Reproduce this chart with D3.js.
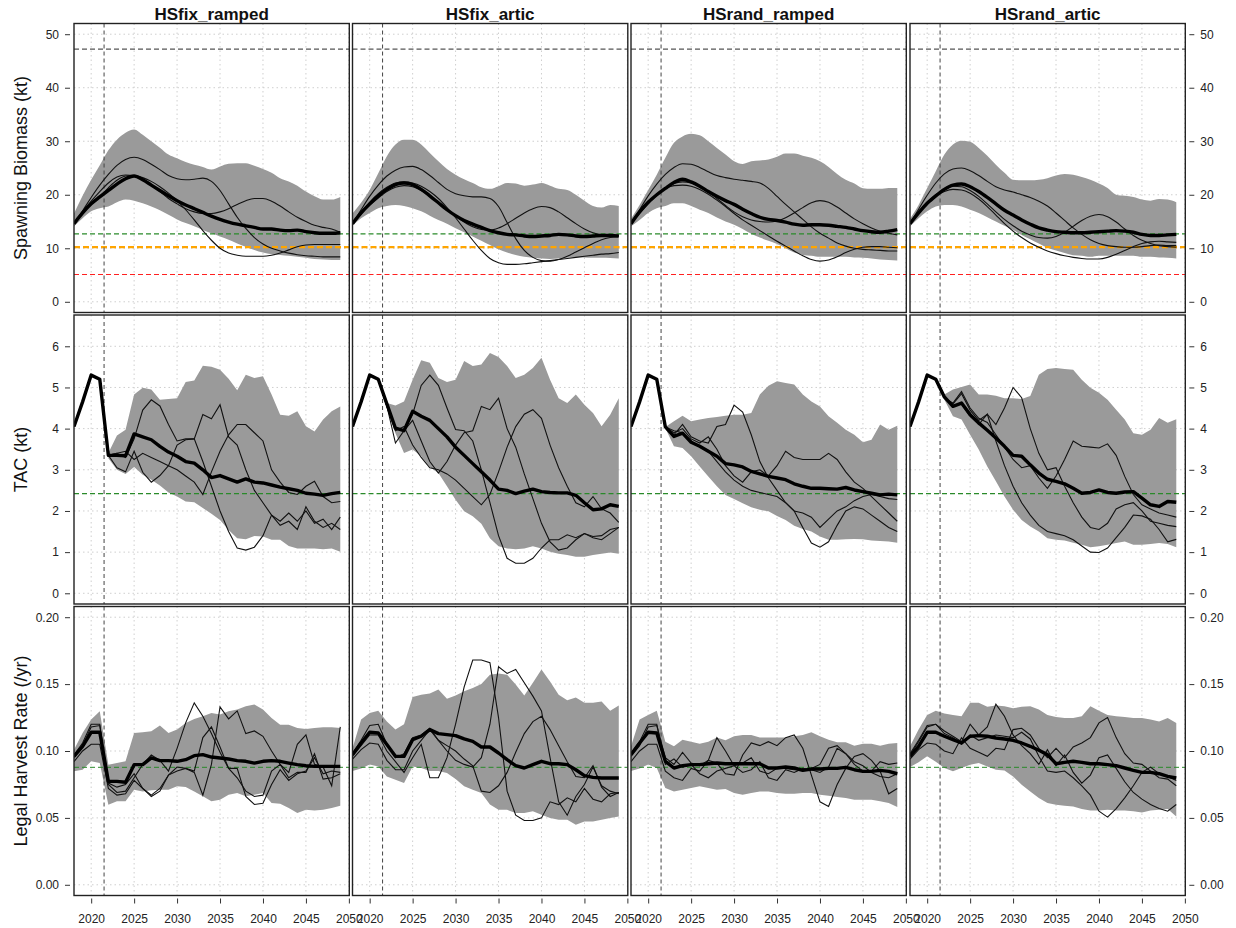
<!DOCTYPE html>
<html>
<head lang="en">
    <meta charset="UTF-8">
    <title> Harvest strategy projections </title>
    <script type="text/javascript" src="https://cdn.jsdelivr.net/npm/d3@7"></script>

    <style>
        body { margin: 0; background: #ffffff; }
        svg text { font-family: "Liberation Sans", Arial, sans-serif; fill: #222; }
    </style>

</head>

<body>
<div id="chart"></div>

<script>

    // ---------------- data ----------------

    var scenarios = ["HSfix_ramped", "HSfix_artic", "HSrand_ramped", "HSrand_artic"];

    var years = [2018, 2019, 2020, 2021, 2022, 2023, 2024, 2025, 2026, 2027, 2028, 2029, 2030, 2031, 2032, 2033,
                 2034, 2035, 2036, 2037, 2038, 2039, 2040, 2041, 2042, 2043, 2044, 2045, 2046, 2047, 2048, 2049];
    var histYears = [2018, 2019, 2020, 2021];
    var projYears = [2022, 2023, 2024, 2025, 2026, 2027, 2028, 2029, 2030, 2031, 2032, 2033, 2034, 2035,
                     2036, 2037, 2038, 2039, 2040, 2041, 2042, 2043, 2044, 2045, 2046, 2047, 2048, 2049];
    var xTicks = [2020, 2025, 2030, 2035, 2040, 2045, 2050];
    var startYear = 2021.5;

    // spawning biomass (kt), one list per scenario
    var sbUpper = [
        [16.5, 19.8, 22.8, 25.5, 28.3, 30.3, 31.6, 32.2, 31.2, 30.0, 28.8, 27.5, 26.8, 26.1, 25.6, 25.2, 24.7, 25.3, 25.8, 25.9, 25.9, 25.4, 24.8, 24.1, 23.1, 22.5, 21.7, 20.6, 19.7, 19.1, 19.1, 19.6],
        [16.5, 18.5, 20.9, 24.0, 27.2, 29.4, 30.3, 30.3, 29.4, 27.8, 26.25, 24.8, 23.75, 22.9, 22.2, 21.4, 21.1, 21.6, 22.2, 22.1, 21.7, 21.9, 22.2, 21.7, 21.1, 20.9, 20.0, 18.9, 17.9, 17.6, 18.1, 17.9],
        [15.5, 18.1, 20.9, 23.75, 26.9, 29.7, 30.9, 31.4, 31.1, 30.0, 28.75, 27.5, 26.25, 25.75, 26.25, 26.4, 26.6, 27.1, 27.7, 27.7, 27.3, 26.9, 26.25, 25.2, 23.9, 22.8, 22.1, 21.2, 21.1, 21.1, 21.25, 21.25],
        [15.5, 18.1, 21.25, 24.4, 27.5, 29.4, 30.1, 29.9, 28.75, 27.3, 25.6, 24.1, 22.8, 22.7, 22.7, 22.8, 23.1, 23.6, 23.9, 23.75, 23.3, 22.8, 22.1, 21.25, 20.0, 19.8, 19.6, 19.1, 18.9, 19.2, 19.1, 18.6]
    ];
    var sbLower = [
        [14.1, 15.6, 16.9, 17.5, 17.8, 18.6, 19.1, 18.9, 18.4, 17.8, 17.1, 16.25, 15.4, 14.7, 14.1, 13.4, 12.8, 12.2, 11.6, 10.9, 10.3, 9.7, 9.2, 8.9, 8.75, 8.6, 8.4, 8.25, 8.0, 7.9, 7.8, 7.8],
        [14.2, 15.6, 16.6, 17.5, 17.9, 18.1, 17.9, 17.5, 16.9, 16.1, 15.3, 14.6, 13.75, 13.0, 12.2, 11.4, 10.6, 9.8, 9.2, 8.75, 8.4, 8.25, 8.1, 8.0, 8.1, 8.25, 8.3, 8.3, 8.25, 8.25, 8.2, 8.1],
        [14.1, 15.3, 16.6, 17.5, 17.9, 18.4, 18.4, 17.9, 17.2, 16.6, 15.75, 15.0, 14.4, 13.6, 12.7, 12.0, 11.4, 10.8, 10.0, 9.2, 8.75, 8.6, 8.4, 8.4, 8.4, 8.4, 8.3, 8.25, 8.1, 7.9, 7.8, 7.7],
        [14.1, 15.6, 16.9, 17.8, 18.1, 18.1, 17.8, 17.2, 16.6, 15.8, 15.0, 14.2, 13.4, 12.5, 11.7, 10.9, 10.1, 9.6, 9.1, 8.7, 8.6, 8.4, 8.6, 8.6, 8.6, 8.6, 8.6, 8.4, 8.4, 8.3, 8.25, 8.1]
    ];
    var sbMedian = [
        [14.6, 16.6, 18.3, 19.6, 20.8, 22.0, 23.0, 23.5, 22.8, 21.8, 20.8, 19.8, 18.9, 18.1, 17.4, 16.7, 16.0, 15.4, 14.9, 14.5, 14.2, 13.9, 13.6, 13.6, 13.4, 13.3, 13.4, 13.1, 12.9, 12.8, 12.8, 12.9],
        [14.6, 16.6, 18.3, 19.8, 21.0, 21.9, 22.2, 21.9, 21.0, 19.8, 18.5, 17.2, 16.1, 15.2, 14.5, 13.9, 13.3, 12.9, 12.6, 12.5, 12.3, 12.2, 12.3, 12.4, 12.6, 12.5, 12.3, 12.2, 12.3, 12.4, 12.4, 12.3],
        [14.6, 16.8, 18.6, 20.0, 21.2, 22.3, 22.9, 22.4, 21.6, 20.6, 19.7, 18.9, 18.2, 17.3, 16.5, 15.8, 15.4, 15.2, 14.9, 14.5, 14.3, 14.4, 14.4, 14.3, 14.1, 13.9, 13.6, 13.3, 13.1, 13.0, 13.2, 13.5],
        [14.6, 16.6, 18.4, 19.8, 21.0, 21.8, 22.0, 21.5, 20.6, 19.5, 18.3, 17.1, 16.2, 15.3, 14.5, 13.8, 13.4, 13.1, 13.0, 12.9, 12.9, 13.0, 13.1, 13.2, 13.3, 13.2, 13.0, 12.6, 12.4, 12.4, 12.5, 12.6]
    ];
    var sbTrace1 = [
        [14.6, 17.0, 19.5, 21.8, 23.8, 25.5, 26.6, 27.0, 26.6, 25.7, 24.7, 23.6, 23.0, 22.8, 22.9, 23.1, 22.5, 20.8, 18.3, 15.8, 13.7, 12.0, 10.8, 10.0, 9.5, 9.1, 8.8, 8.6, 8.5, 8.4, 8.4, 8.4],
        [14.6, 17.2, 19.7, 21.8, 23.5, 24.6, 25.2, 25.3, 24.7, 23.6, 22.3, 21.0, 20.2, 19.8, 19.6, 19.6, 19.3, 17.8, 14.8, 11.8, 9.6, 8.3, 7.7, 7.6, 7.9, 8.5, 9.3, 10.1, 10.9, 11.6, 12.0, 12.2],
        [14.6, 17.2, 19.8, 22.0, 23.8, 25.1, 25.8, 25.7, 25.1, 24.3, 23.6, 23.2, 22.9, 22.7, 22.5, 22.2, 21.2, 19.7, 18.2, 16.8, 15.4, 14.0, 12.8, 11.9, 11.0, 10.4, 10.0, 9.8, 9.7, 9.6, 9.5, 9.5],
        [14.6, 17.3, 19.9, 22.2, 23.9, 24.8, 25.0, 24.5, 23.6, 22.5, 21.5, 20.9, 20.5, 20.0, 19.5, 18.8, 17.9, 16.6, 15.2, 13.8, 12.6, 11.6, 10.9, 10.5, 10.3, 10.2, 10.2, 10.3, 10.5, 10.6, 10.5, 10.5]
    ];
    var sbTrace2 = [
        [14.6, 16.8, 18.8, 20.6, 22.2, 23.3, 23.7, 23.6, 23.2, 22.5, 21.5, 20.3, 18.9, 17.2, 15.3, 13.3, 11.5, 10.0, 9.1, 8.7, 8.5, 8.5, 8.5, 8.7, 9.1, 9.7, 10.3, 10.6, 10.7, 10.7, 10.7, 10.7],
        [14.6, 16.7, 18.6, 20.2, 21.4, 22.2, 22.4, 22.2, 21.6, 20.6, 19.3, 17.6, 15.7, 13.6, 11.5, 9.6, 8.1, 7.3, 7.0, 7.0, 7.1, 7.3, 7.5, 7.7, 7.9, 8.1, 8.3, 8.5, 8.7, 8.9, 9.0, 9.2],
        [14.6, 16.6, 18.5, 20.1, 21.2, 21.7, 21.8, 21.6, 21.0, 20.1, 19.0, 17.8, 16.5, 15.3, 14.3, 13.3, 12.3, 11.3, 10.4, 9.5, 8.6, 7.9, 7.6, 7.8, 8.4, 9.2, 9.8, 10.2, 10.3, 10.3, 10.2, 10.1],
        [14.6, 16.5, 18.2, 19.7, 20.6, 21.0, 20.9, 20.3, 19.2, 17.8, 16.2, 14.6, 13.2, 12.0, 11.0, 10.2, 9.5, 9.0, 8.6, 8.3, 8.1, 8.0, 8.0, 8.3, 8.9, 9.6, 10.3, 10.9, 11.2, 11.3, 11.2, 11.1]
    ];
    var sbTrace3 = [
        [14.6, 16.5, 18.2, 19.7, 21.3, 22.7, 23.5, 23.6, 23.0, 21.9, 20.6, 19.3, 18.3, 17.4, 16.8, 16.5, 16.5, 16.8, 17.4, 18.2, 18.9, 19.3, 19.3, 18.8, 17.9, 16.8, 15.8, 15.0, 14.3, 13.9, 13.6, 13.0],
        [14.6, 16.4, 18.0, 19.4, 20.6, 21.4, 21.7, 21.5, 20.8, 19.8, 18.6, 17.3, 16.0, 14.9, 14.0, 13.5, 13.4, 13.8, 14.6, 15.6, 16.6, 17.4, 17.8, 17.6, 16.8, 15.7, 14.6, 13.6, 12.9, 12.5, 12.4, 12.4],
        [14.6, 16.5, 18.3, 19.9, 21.2, 22.1, 22.4, 22.2, 21.5, 20.5, 19.3, 18.0, 16.8, 15.9, 15.3, 15.0, 14.9, 15.1, 15.7, 16.6, 17.6, 18.5, 18.9, 18.6, 17.7, 16.6, 15.5, 14.6, 13.8, 13.2, 12.8, 12.5],
        [14.6, 16.7, 18.5, 20.0, 21.0, 21.6, 21.5, 20.8, 19.7, 18.3, 16.8, 15.4, 14.2, 13.2, 12.5, 12.0, 11.9, 12.2, 13.0, 14.1, 15.2, 16.0, 16.3, 15.9, 14.9, 13.6, 12.4, 11.5, 10.9, 10.5, 10.3, 10.2]
    ];
    var sbRefs = [47.2, 12.7, 10.2, 5.1];   // unfished, USR-ish, LRP-ish, low

    // TAC (kt): common history, then projections 2022-2049
    var tacHist = [4.05, 4.65, 5.3, 5.2];
    var tacUpper = [
        [3.41, 3.83, 3.97, 4.83, 4.99, 4.95, 4.70, 4.72, 4.74, 5.13, 5.17, 5.53, 5.50, 5.43, 5.21, 4.93, 5.31, 5.23, 5.27, 4.83, 4.34, 4.31, 4.42, 4.06, 3.93, 4.22, 4.42, 4.54],
        [4.62, 4.56, 4.66, 5.19, 5.66, 5.60, 5.23, 5.13, 5.19, 5.64, 5.52, 5.56, 5.84, 5.74, 5.52, 5.23, 5.31, 5.47, 5.72, 5.19, 4.74, 4.62, 4.83, 4.58, 4.38, 4.06, 4.34, 4.74],
        [4.04, 4.18, 4.31, 4.18, 4.22, 4.26, 4.28, 4.31, 4.34, 4.34, 4.38, 4.83, 5.04, 5.15, 5.11, 5.07, 4.83, 4.66, 4.54, 4.30, 4.14, 3.97, 3.85, 3.67, 3.73, 4.10, 3.97, 4.07],
        [4.83, 4.95, 5.01, 5.07, 4.83, 4.83, 4.80, 4.74, 4.74, 4.72, 4.79, 5.31, 5.45, 5.47, 5.45, 5.43, 5.19, 4.99, 4.87, 4.70, 4.46, 4.22, 3.89, 3.85, 3.97, 4.26, 4.14, 4.23]
    ];
    var tacLower = [
        [3.28, 3.00, 2.90, 3.07, 2.88, 2.76, 2.62, 2.45, 2.35, 2.23, 2.21, 2.07, 1.93, 1.78, 1.54, 1.34, 1.31, 1.39, 1.38, 1.30, 1.30, 1.15, 1.09, 1.09, 1.09, 1.07, 1.09, 1.01],
        [4.50, 3.89, 3.41, 3.49, 3.33, 3.07, 2.92, 2.60, 2.27, 1.99, 1.87, 1.69, 1.34, 1.14, 1.09, 1.07, 1.09, 1.14, 1.09, 1.01, 0.96, 0.93, 0.89, 0.89, 0.93, 0.96, 0.99, 0.96],
        [4.01, 3.57, 3.53, 3.33, 3.08, 2.84, 2.60, 2.39, 2.29, 2.19, 2.09, 2.03, 1.99, 1.88, 1.78, 1.64, 1.56, 1.50, 1.38, 1.30, 1.30, 1.31, 1.32, 1.31, 1.28, 1.27, 1.26, 1.23],
        [4.70, 4.30, 4.22, 3.85, 3.49, 3.08, 2.72, 2.35, 2.03, 1.78, 1.62, 1.50, 1.34, 1.30, 1.28, 1.23, 1.18, 1.12, 1.14, 1.18, 1.22, 1.26, 1.18, 1.18, 1.20, 1.22, 1.20, 1.12]
    ];
    var tacMedian = [
        [3.35, 3.35, 3.34, 3.87, 3.80, 3.73, 3.57, 3.43, 3.33, 3.20, 3.16, 3.00, 2.81, 2.86, 2.78, 2.70, 2.78, 2.70, 2.68, 2.63, 2.58, 2.54, 2.50, 2.43, 2.41, 2.38, 2.42, 2.45],
        [4.60, 4.01, 3.95, 4.42, 4.30, 4.20, 4.00, 3.80, 3.55, 3.35, 3.15, 2.95, 2.75, 2.53, 2.50, 2.42, 2.48, 2.53, 2.47, 2.45, 2.44, 2.44, 2.38, 2.20, 2.03, 2.05, 2.15, 2.11],
        [4.04, 3.81, 3.89, 3.67, 3.57, 3.45, 3.33, 3.15, 3.12, 3.07, 2.96, 2.90, 2.84, 2.80, 2.76, 2.66, 2.60, 2.55, 2.55, 2.54, 2.53, 2.57, 2.51, 2.47, 2.43, 2.39, 2.41, 2.39],
        [4.77, 4.54, 4.62, 4.34, 4.14, 3.96, 3.77, 3.57, 3.35, 3.33, 3.12, 2.92, 2.77, 2.72, 2.66, 2.55, 2.43, 2.45, 2.51, 2.45, 2.43, 2.46, 2.47, 2.31, 2.15, 2.11, 2.23, 2.21]
    ];
    var tacTrace1 = [
        [3.35, 3.40, 3.30, 3.75, 4.45, 4.70, 4.55, 4.10, 3.70, 3.75, 3.75, 3.20, 2.60, 2.00, 1.50, 1.10, 1.05, 1.12, 1.40, 1.90, 1.75, 1.95, 1.75, 2.00, 1.70, 1.80, 1.55, 1.85],
        [4.55, 4.00, 3.95, 4.35, 5.05, 5.30, 5.05, 4.50, 3.98, 3.95, 3.70, 3.00, 2.20, 1.40, 0.85, 0.73, 0.73, 0.85, 1.10, 1.30, 1.30, 1.42, 1.35, 1.45, 1.38, 1.40, 1.55, 1.60],
        [4.04, 3.85, 4.10, 3.80, 3.70, 3.65, 4.05, 4.10, 4.57, 4.40, 3.85, 3.20, 2.80, 2.50, 2.20, 2.00, 1.60, 1.22, 1.12, 1.25, 1.65, 2.00, 2.10, 2.05, 1.90, 1.75, 1.60, 1.50],
        [4.74, 4.60, 4.85, 4.45, 4.20, 4.35, 4.10, 4.50, 5.00, 4.75, 4.00, 3.40, 3.00, 3.05, 2.60, 2.20, 1.85, 1.60, 1.55, 1.70, 2.05, 2.15, 2.20, 2.00, 1.75, 1.70, 1.65, 1.62]
    ];
    var tacTrace2 = [
        [3.35, 3.05, 2.95, 3.45, 2.94, 2.70, 2.86, 3.10, 3.60, 3.73, 3.75, 4.34, 4.24, 4.58, 3.80, 3.60, 3.00, 2.50, 2.20, 1.90, 1.65, 1.75, 1.55, 2.10, 1.75, 1.60, 1.70, 1.55],
        [4.55, 3.65, 3.95, 4.20, 3.70, 3.20, 2.92, 3.20, 3.60, 3.90, 3.95, 4.54, 4.46, 4.74, 4.00, 3.55, 2.90, 2.30, 1.70, 1.25, 1.05, 1.10, 1.30, 1.45, 1.35, 1.30, 1.45, 1.60],
        [4.04, 3.90, 4.00, 3.75, 3.65, 3.80, 3.50, 3.10, 2.85, 2.70, 2.95, 3.00, 2.85, 3.10, 3.45, 3.30, 3.25, 3.25, 3.25, 3.40, 3.25, 2.95, 2.70, 2.55, 2.35, 2.15, 1.95, 1.75],
        [4.74, 4.55, 4.60, 4.30, 4.10, 4.35, 3.70, 3.10, 2.60, 2.20, 1.90, 1.65, 1.50, 1.45, 1.40, 1.30, 1.15, 1.00, 0.99, 1.10, 1.35, 1.60, 1.90, 1.88, 1.80, 1.55, 1.25, 1.31]
    ];
    var tacTrace3 = [
        [3.35, 3.40, 3.45, 3.25, 3.40, 3.30, 3.20, 3.10, 3.00, 2.85, 2.70, 2.40, 2.95, 3.45, 3.85, 4.10, 4.10, 3.90, 3.70, 3.00, 2.70, 2.45, 2.40, 2.60, 2.72, 2.35, 2.20, 2.23],
        [4.55, 3.95, 4.05, 3.60, 3.30, 3.05, 3.00, 2.90, 2.75, 2.55, 2.35, 2.15, 2.40, 2.95, 3.55, 4.05, 4.35, 4.46, 4.25, 3.60, 3.05, 2.60, 2.20, 2.10, 2.35, 2.05, 1.95, 1.72],
        [4.04, 3.95, 3.90, 3.70, 3.55, 3.45, 3.20, 2.95, 2.75, 2.60, 2.50, 2.45, 2.40, 2.35, 2.20, 2.00, 1.95, 1.85, 1.60, 1.80, 2.00, 2.10, 2.25, 2.35, 2.40, 2.35, 2.30, 2.28],
        [4.74, 4.62, 4.90, 4.50, 4.25, 4.15, 3.85, 3.55, 3.25, 3.05, 3.10, 2.80, 2.55, 2.85, 3.25, 3.70, 3.57, 3.55, 3.53, 3.63, 3.35, 2.84, 2.40, 2.15, 2.05, 1.95, 1.90, 1.85]
    ];
    var tacRefs = [2.42];

    // legal harvest rate (/yr)
    var hrUpper = [
        [0.101, 0.1135, 0.1235, 0.1297, 0.0898, 0.091, 0.0923, 0.1135, 0.114, 0.1147, 0.119, 0.1135, 0.116, 0.121, 0.124, 0.126, 0.1284, 0.1272, 0.1297, 0.131, 0.1334, 0.1347, 0.131, 0.1247, 0.1197, 0.1197, 0.1172, 0.1165, 0.1172, 0.1177, 0.1177, 0.1172],
        [0.102, 0.1235, 0.1284, 0.130, 0.122, 0.116, 0.120, 0.1404, 0.142, 0.143, 0.146, 0.139, 0.1414, 0.1447, 0.147, 0.150, 0.157, 0.158, 0.157, 0.1497, 0.1414, 0.151, 0.161, 0.152, 0.142, 0.138, 0.140, 0.136, 0.136, 0.137, 0.130, 0.134],
        [0.1035, 0.1235, 0.127, 0.130, 0.107, 0.1035, 0.1085, 0.107, 0.1055, 0.107, 0.110, 0.108, 0.111, 0.112, 0.112, 0.110, 0.110, 0.110, 0.110, 0.111, 0.112, 0.114, 0.111, 0.1085, 0.1065, 0.1065, 0.104, 0.1055, 0.1055, 0.104, 0.1055, 0.106],
        [0.1035, 0.116, 0.127, 0.130, 0.128, 0.127, 0.126, 0.136, 0.136, 0.133, 0.134, 0.1334, 0.132, 0.133, 0.1334, 0.131, 0.127, 0.1255, 0.1247, 0.1247, 0.126, 0.1334, 0.130, 0.127, 0.126, 0.1255, 0.1247, 0.1247, 0.1235, 0.122, 0.1247, 0.121]
    ];
    var hrLower = [
        [0.0848, 0.086, 0.0923, 0.091, 0.0599, 0.0624, 0.0624, 0.0711, 0.0698, 0.0706, 0.0711, 0.0711, 0.0736, 0.0731, 0.0698, 0.0661, 0.0624, 0.0636, 0.0673, 0.0686, 0.0661, 0.0673, 0.0686, 0.0611, 0.0606, 0.0574, 0.0536, 0.0561, 0.0556, 0.0561, 0.0574, 0.0591],
        [0.085, 0.087, 0.090, 0.0885, 0.081, 0.0786, 0.076, 0.0885, 0.0873, 0.085, 0.085, 0.0836, 0.079, 0.0736, 0.071, 0.0686, 0.060, 0.056, 0.056, 0.0536, 0.0536, 0.0549, 0.0524, 0.050, 0.0486, 0.0486, 0.0449, 0.0474, 0.0474, 0.0486, 0.050, 0.0511],
        [0.085, 0.087, 0.090, 0.0873, 0.0723, 0.0698, 0.071, 0.0723, 0.0736, 0.0723, 0.071, 0.0716, 0.0686, 0.0673, 0.0686, 0.0698, 0.0698, 0.0686, 0.068, 0.068, 0.0686, 0.0686, 0.0673, 0.0666, 0.0656, 0.0648, 0.0636, 0.0636, 0.0636, 0.0624, 0.0611, 0.0581],
        [0.088, 0.0915, 0.0960, 0.0920, 0.0873, 0.0848, 0.0873, 0.0898, 0.091, 0.0885, 0.086, 0.0855, 0.081, 0.0748, 0.0698, 0.0648, 0.0611, 0.0599, 0.0591, 0.0586, 0.0566, 0.0556, 0.0556, 0.0561, 0.0556, 0.0556, 0.0549, 0.0541, 0.0556, 0.0561, 0.0566, 0.0511]
    ];
    var hrMedian = [
        [0.096, 0.1035, 0.114, 0.114, 0.0773, 0.0773, 0.0766, 0.0898, 0.0898, 0.0948, 0.0928, 0.0928, 0.0923, 0.0935, 0.0965, 0.0973, 0.0955, 0.0948, 0.094, 0.0928, 0.0923, 0.091, 0.0923, 0.0928, 0.0923, 0.091, 0.0898, 0.089, 0.0885, 0.0885, 0.0885, 0.0885],
        [0.0973, 0.106, 0.114, 0.1135, 0.1048, 0.096, 0.096, 0.1085, 0.111, 0.116, 0.113, 0.1122, 0.1115, 0.109, 0.1072, 0.103, 0.103, 0.0985, 0.0935, 0.089, 0.0873, 0.0898, 0.0923, 0.0905, 0.0905, 0.0898, 0.086, 0.0816, 0.0803, 0.0798, 0.0798, 0.0798],
        [0.0973, 0.106, 0.114, 0.1135, 0.0923, 0.0873, 0.089, 0.0898, 0.0898, 0.0905, 0.091, 0.0905, 0.0905, 0.0905, 0.0905, 0.0905, 0.0873, 0.0873, 0.088, 0.0873, 0.0855, 0.0865, 0.0865, 0.087, 0.087, 0.0878, 0.086, 0.0848, 0.0848, 0.0855, 0.0848, 0.083],
        [0.096, 0.1035, 0.114, 0.114, 0.111, 0.1085, 0.106, 0.111, 0.1115, 0.111, 0.1097, 0.109, 0.108, 0.106, 0.1035, 0.1005, 0.0973, 0.0905, 0.0915, 0.0923, 0.0915, 0.0905, 0.0905, 0.0898, 0.089, 0.0873, 0.0855, 0.084, 0.084, 0.083, 0.081, 0.0798]
    ];
    var hrTrace1 = [
        [0.095, 0.104, 0.118, 0.119, 0.075, 0.069, 0.070, 0.080, 0.090, 0.097, 0.093, 0.085, 0.102, 0.121, 0.136, 0.126, 0.113, 0.099, 0.087, 0.080, 0.070, 0.066, 0.067, 0.085, 0.090, 0.084, 0.105, 0.112, 0.090, 0.088, 0.074, 0.118],
        [0.096, 0.104, 0.112, 0.112, 0.100, 0.092, 0.084, 0.095, 0.105, 0.080, 0.080, 0.095, 0.120, 0.148, 0.168, 0.168, 0.166, 0.125, 0.070, 0.052, 0.048, 0.048, 0.050, 0.062, 0.060, 0.065, 0.062, 0.072, 0.064, 0.062, 0.068, 0.069],
        [0.096, 0.104, 0.118, 0.119, 0.095, 0.090, 0.099, 0.091, 0.089, 0.093, 0.091, 0.083, 0.082, 0.097, 0.106, 0.104, 0.107, 0.104, 0.110, 0.112, 0.102, 0.082, 0.062, 0.0586, 0.075, 0.087, 0.096, 0.098, 0.093, 0.085, 0.068, 0.072],
        [0.097, 0.107, 0.118, 0.120, 0.115, 0.111, 0.107, 0.120, 0.112, 0.118, 0.135, 0.126, 0.112, 0.104, 0.098, 0.090, 0.101, 0.089, 0.097, 0.084, 0.076, 0.082, 0.095, 0.097, 0.087, 0.077, 0.069, 0.064, 0.060, 0.057, 0.055, 0.060]
    ];
    var hrTrace2 = [
        [0.092, 0.100, 0.105, 0.105, 0.072, 0.067, 0.068, 0.078, 0.072, 0.067, 0.072, 0.082, 0.085, 0.087, 0.084, 0.067, 0.090, 0.133, 0.124, 0.130, 0.113, 0.115, 0.111, 0.100, 0.090, 0.080, 0.084, 0.084, 0.098, 0.079, 0.080, 0.083],
        [0.094, 0.101, 0.106, 0.105, 0.093, 0.086, 0.086, 0.100, 0.108, 0.116, 0.108, 0.100, 0.093, 0.090, 0.088, 0.095, 0.120, 0.163, 0.158, 0.161, 0.151, 0.141, 0.130, 0.095, 0.062, 0.052, 0.066, 0.075, 0.088, 0.074, 0.070, 0.068],
        [0.092, 0.100, 0.105, 0.105, 0.085, 0.080, 0.078, 0.087, 0.085, 0.093, 0.110, 0.100, 0.089, 0.084, 0.086, 0.092, 0.080, 0.078, 0.086, 0.084, 0.087, 0.086, 0.084, 0.088, 0.102, 0.098, 0.090, 0.085, 0.085, 0.092, 0.090, 0.091],
        [0.094, 0.101, 0.106, 0.105, 0.100, 0.098, 0.110, 0.102, 0.099, 0.096, 0.102, 0.101, 0.116, 0.117, 0.112, 0.102, 0.095, 0.102, 0.095, 0.103, 0.106, 0.110, 0.121, 0.125, 0.110, 0.098, 0.091, 0.090, 0.085, 0.080, 0.079, 0.074]
    ];
    var hrTrace3 = [
        [0.097, 0.106, 0.120, 0.120, 0.076, 0.073, 0.075, 0.083, 0.072, 0.066, 0.070, 0.082, 0.088, 0.087, 0.085, 0.110, 0.118, 0.103, 0.087, 0.087, 0.066, 0.060, 0.061, 0.075, 0.086, 0.078, 0.083, 0.085, 0.095, 0.083, 0.085, 0.084],
        [0.098, 0.108, 0.119, 0.120, 0.105, 0.095, 0.098, 0.110, 0.112, 0.117, 0.108, 0.104, 0.100, 0.094, 0.089, 0.070, 0.069, 0.074, 0.084, 0.099, 0.113, 0.122, 0.126, 0.116, 0.104, 0.092, 0.081, 0.080, 0.089, 0.073, 0.066, 0.069],
        [0.098, 0.107, 0.120, 0.120, 0.090, 0.094, 0.088, 0.090, 0.083, 0.080, 0.085, 0.087, 0.089, 0.091, 0.095, 0.085, 0.083, 0.087, 0.087, 0.086, 0.086, 0.087, 0.090, 0.102, 0.104, 0.098, 0.092, 0.089, 0.084, 0.081, 0.080, 0.083],
        [0.098, 0.108, 0.119, 0.120, 0.113, 0.110, 0.105, 0.112, 0.108, 0.110, 0.112, 0.111, 0.110, 0.114, 0.109, 0.096, 0.085, 0.084, 0.085, 0.080, 0.074, 0.067, 0.055, 0.0506, 0.057, 0.065, 0.074, 0.084, 0.088, 0.083, 0.081, 0.078]
    ];
    var hrRefs = [0.0878];


    // ---------------- layout ----------------

    var W = 1236, H = 928;
    var colX   = [74, 352.5, 631, 910];
    var rowY   = [23.5, 315, 606.5];
    var panelW = 275.3;
    var panelH = 289;

    var envFill  = "#9a9a9a";
    var gridCol  = "#cfcfcf";

    // one entry per row; envelope/line years differ for TAC (no spread in history)
    var rows = [
        { label: "Spawning Biomass (kt)", domain: [-2, 52], ticks: [0, 10, 20, 30, 40, 50], fmt: d3.format("d"),
          envYears: years, lineYears: years, hist: [], upper: sbUpper, lower: sbLower, median: sbMedian,
          traces: [sbTrace1, sbTrace2, sbTrace3], smooth: true },
        { label: "TAC (kt)", domain: [-0.26, 6.76], ticks: [0, 1, 2, 3, 4, 5, 6], fmt: d3.format("d"),
          envYears: projYears, lineYears: histYears.concat(projYears), hist: tacHist, upper: tacUpper, lower: tacLower, median: tacMedian,
          traces: [tacTrace1, tacTrace2, tacTrace3], smooth: false },
        { label: "Legal Harvest Rate (/yr)", domain: [-0.008, 0.208], ticks: [0, 0.05, 0.10, 0.15, 0.20], fmt: d3.format(".2f"),
          envYears: years, lineYears: years, hist: [], upper: hrUpper, lower: hrLower, median: hrMedian,
          traces: [hrTrace1, hrTrace2, hrTrace3], smooth: false }
    ];

    // reference lines (value list, then styles)
    var refStyles = [
        [ { v: sbRefs[0], c: "#555555", w: 1.2, d: "5,3" },
          { v: sbRefs[1], c: "#2a8a2a", w: 1.2, d: "5,3" },
          { v: sbRefs[2], c: "#ffa500", w: 2.2, d: "6,3" },
          { v: sbRefs[3], c: "#ff2020", w: 1.2, d: "5,3" } ],
        [ { v: tacRefs[0], c: "#2a8a2a", w: 1.2, d: "5,3" } ],
        [ { v: hrRefs[0], c: "#2a8a2a", w: 1.0, d: "5,3" } ]
    ];


    var svg = d3.select("#chart").append("svg")
            .attr("width", W)
            .attr("height", H);

    var x = d3.scaleLinear().domain([2018, 2050.05]).range([0, panelW]);

    // column titles
    svg.selectAll(".title")
            .data(scenarios).enter().append("text")
            .attr("x", function (d, i) { return colX[i] + panelW / 2; })
            .attr("y", 20)
            .attr("text-anchor", "middle")
            .style("font-size", "17px")
            .style("font-weight", "bold")
            .style("fill", "#111")
            .text(function (d) { return d; });

    function styleAxis(sel) {
        sel.select(".domain").remove();
        sel.selectAll("line").attr("stroke", "#333");
        sel.selectAll("text").style("font-size", "12px").style("fill", "#222")
                .style("font-family", "'Liberation Sans', Arial, sans-serif");
    }

    rows.forEach(function (row, r) {

        var y = d3.scaleLinear().domain(row.domain).range([panelH, 0]);

        // row label
        svg.append("text")
                .attr("transform", "translate(27," + (rowY[r] + panelH / 2) + ") rotate(-90)")
                .attr("text-anchor", "middle")
                .style("font-size", "18px")
                .style("fill", "#111")
                .text(row.label);

        var area = d3.area()
                .x(function (d) { return x(d.yr); })
                .y0(function (d) { return y(d.lo); })
                .y1(function (d) { return y(d.hi); });
        var line = d3.line()
                .x(function (d) { return x(d.yr); })
                .y(function (d) { return y(d.v); });
        if (row.smooth) { area.curve(d3.curveMonotoneX); line.curve(d3.curveMonotoneX); }

        scenarios.forEach(function (name, p) {

            var g = svg.append("g")
                    .attr("transform", "translate(" + colX[p] + "," + rowY[r] + ")");

            var clipId = "clip" + r + "_" + p;
            g.append("clipPath").attr("id", clipId)
                    .append("rect").attr("width", panelW).attr("height", panelH);

            var inner = g.append("g").attr("clip-path", "url(#" + clipId + ")");

            // dotted grid
            inner.selectAll(".gx").data(xTicks).enter().append("line")
                    .attr("x1", function (d) { return x(d); })
                    .attr("x2", function (d) { return x(d); })
                    .attr("y1", 0).attr("y2", panelH)
                    .style("stroke", gridCol).style("stroke-dasharray", "1.5,3");
            inner.selectAll(".gy").data(row.ticks).enter().append("line")
                    .attr("x1", 0).attr("x2", panelW)
                    .attr("y1", function (d) { return y(d); })
                    .attr("y2", function (d) { return y(d); })
                    .style("stroke", gridCol).style("stroke-dasharray", "1.5,3");

            // envelope
            var env = row.envYears.map(function (yr, i) {
                return { yr: yr, lo: row.lower[p][i], hi: row.upper[p][i] };
            });
            inner.append("path").datum(env)
                    .attr("d", area)
                    .style("fill", envFill)
                    .style("stroke", "none");

            // reference lines
            inner.selectAll(".ref").data(refStyles[r]).enter().append("line")
                    .attr("x1", 0).attr("x2", panelW)
                    .attr("y1", function (d) { return y(d.v); })
                    .attr("y2", function (d) { return y(d.v); })
                    .style("stroke", function (d) { return d.c; })
                    .style("stroke-width", function (d) { return d.w; })
                    .style("stroke-dasharray", function (d) { return d.d; });

            // start of projection
            inner.append("line")
                    .attr("x1", x(startYear)).attr("x2", x(startYear))
                    .attr("y1", 0).attr("y2", panelH)
                    .style("stroke", "#444").style("stroke-width", 1)
                    .style("stroke-dasharray", "4,3");

            function pts(vals) {
                var all = row.hist.concat(vals);
                return row.lineYears.map(function (yr, i) { return { yr: yr, v: all[i] }; });
            }

            // individual replicates
            row.traces.forEach(function (tr) {
                inner.append("path").datum(pts(tr[p]))
                        .attr("d", line)
                        .style("fill", "none")
                        .style("stroke", "#111")
                        .style("stroke-width", 1.1);
            });

            // median
            inner.append("path").datum(pts(row.median[p]))
                    .attr("d", line)
                    .style("fill", "none")
                    .style("stroke", "#000")
                    .style("stroke-width", 3.4)
                    .style("stroke-linejoin", "round");

            // frame
            g.append("rect")
                    .attr("width", panelW).attr("height", panelH)
                    .style("fill", "none")
                    .style("stroke", "#222")
                    .style("stroke-width", 1.4);

            // axes
            if (p === 0) {
                g.append("g")
                        .attr("transform", "translate(-4,0)")
                        .call(d3.axisLeft(y).tickValues(row.ticks).tickFormat(row.fmt).tickSize(5).tickPadding(6))
                        .call(styleAxis);
            }
            if (p === scenarios.length - 1) {
                g.append("g")
                        .attr("transform", "translate(" + (panelW + 4) + ",0)")
                        .call(d3.axisRight(y).tickValues(row.ticks).tickFormat(row.fmt).tickSize(5).tickPadding(6))
                        .call(styleAxis);
            }
            if (r === rows.length - 1) {
                g.append("g")
                        .attr("transform", "translate(0," + (panelH + 3) + ")")
                        .call(d3.axisBottom(x).tickValues(xTicks).tickFormat(d3.format("d")).tickSize(5).tickPadding(11))
                        .call(styleAxis);
            }
        });
    });

</script>

</body>
</html>
